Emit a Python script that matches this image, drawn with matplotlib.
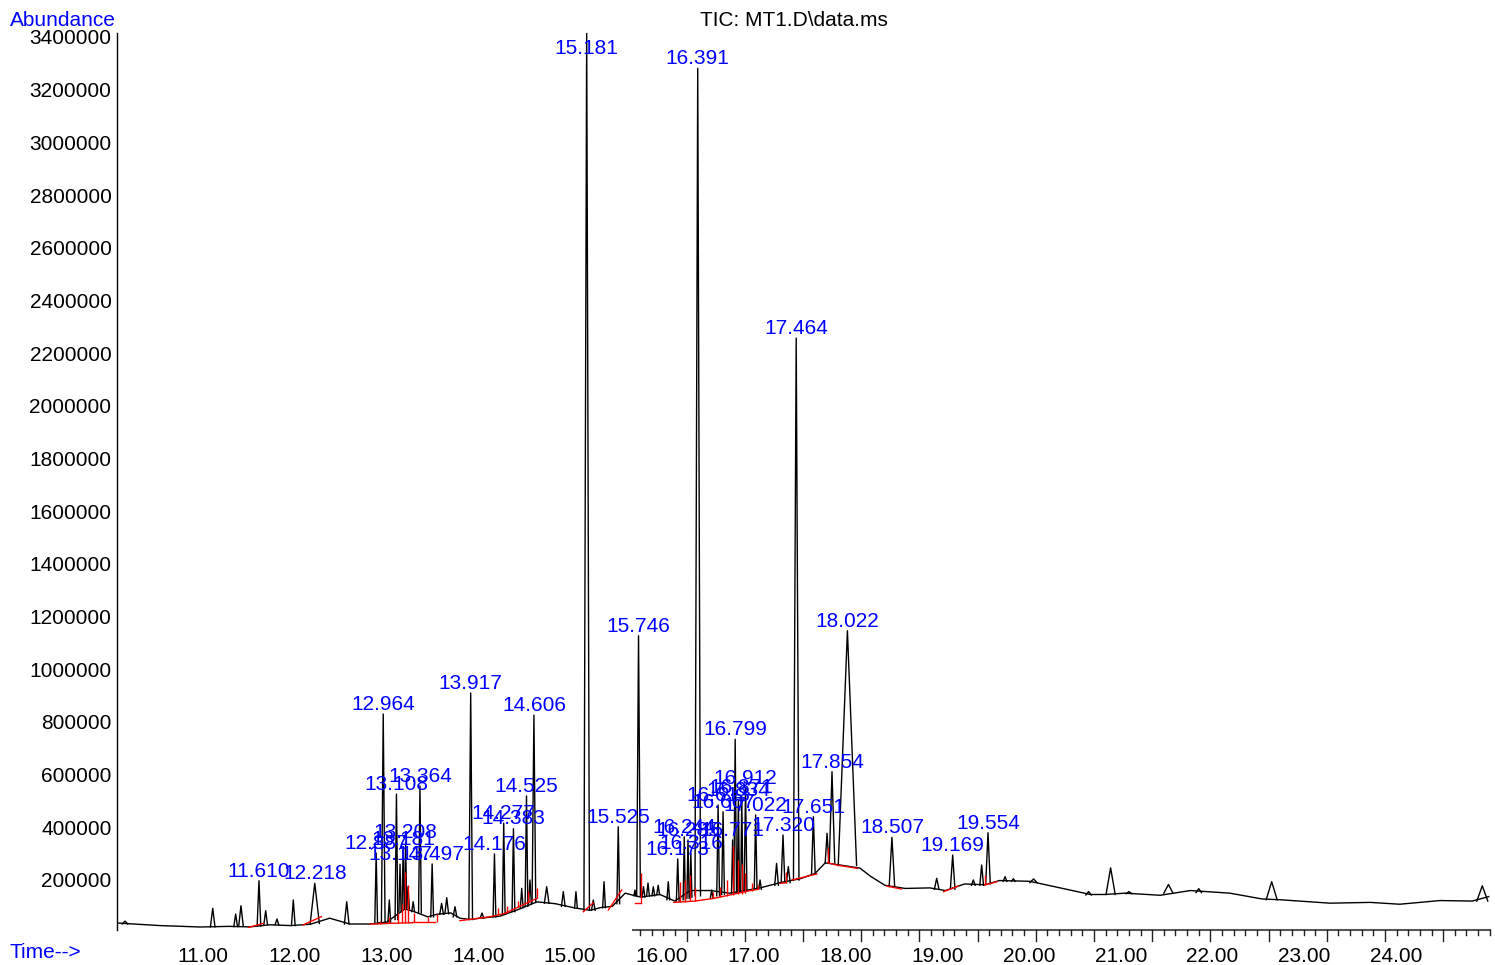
import numpy as np
import matplotlib.pyplot as plt

plt.rcParams['font.family'] = ['Liberation Sans', 'DejaVu Sans']

# background trace between peaks (min, abundance)
base_t = [10.063, 10.53, 10.967, 11.29, 11.51, 11.73, 11.95, 12.17, 12.38, 12.60, 12.82,
          13.0, 13.2, 13.3, 13.45, 13.55, 13.7, 13.8, 13.91, 14.02, 14.24, 14.45, 14.64,
          14.84, 15.05, 15.22, 15.33, 15.46, 15.60, 15.77, 15.98, 16.14, 16.31, 16.53,
          16.74, 17.07, 17.29, 17.51, 17.67, 17.78, 17.94, 18.16, 18.27, 18.43, 18.65,
          18.92, 19.09, 19.30, 19.52, 19.68, 20.01, 20.34, 20.67, 20.83, 21.05, 21.43,
          21.76, 22.19, 22.54, 22.74, 23.28, 23.72, 24.04, 24.48, 24.83, 25.01]
base_v = [36800, 27000, 21600, 24000, 22000, 30000, 27000, 32000, 55000, 33000, 33000,
          40000, 90000, 80000, 60000, 70000, 75000, 55000, 50000, 55000, 63000, 90000, 117000,
          110000, 94000, 85000, 95000, 100000, 150000, 135000, 145000, 120000, 160000, 160000,
          150000, 170000, 190000, 205000, 225000, 265000, 257000, 245000, 215000, 180000, 168000,
          170000, 160000, 185000, 182000, 198000, 195000, 170000, 145000, 145000, 150000, 142000,
          160000, 150000, 128000, 125000, 112000, 115000, 108000, 122000, 120000, 137000]

# integrated (labelled) peaks: label, apex, foot, half width at foot (min)
peak_labels = ["11.610", "12.218", "12.887", "12.964", "13.108", "13.147", "13.181", "13.208",
               "13.364", "13.497", "13.917", "14.176", "14.277", "14.383", "14.525", "14.606",
               "15.181", "15.525", "15.746", "16.173", "16.244", "16.285", "16.316", "16.391",
               "16.613", "16.667", "16.771", "16.799", "16.834", "16.871", "16.912", "17.022",
               "17.320", "17.464", "17.651", "17.854", "18.022", "18.507", "19.169", "19.554"]
peak_height = [197000, 187500, 302000, 830000, 526000, 260000, 318000, 345000,
               557000, 261000, 910000, 299000, 416000, 395000, 519000, 826000,
               3430000, 402000, 1127000, 280000, 364000, 352000, 300000, 3281000,
               485000, 459000, 352000, 734000, 504000, 516000, 549000, 447000,
               371000, 2257000, 440000, 611000, 1146000, 362000, 295000, 379500]
peak_foot = [25000, 35000, 33000, 35000, 50000, 80000, 90000, 95000,
             75000, 60000, 50000, 60000, 70000, 80000, 100000, 115000,
             85000, 110000, 140000, 120000, 125000, 130000, 135000, 140000,
             140000, 145000, 150000, 150000, 155000, 155000, 160000, 165000,
             190000, 200000, 222000, 265000, 255000, 175000, 165000, 185000]
peak_hw = [0.02, 0.05, 0.015, 0.02, 0.015, 0.012, 0.012, 0.012,
           0.015, 0.015, 0.02, 0.015, 0.015, 0.015, 0.015, 0.02,
           0.03, 0.015, 0.02, 0.015, 0.012, 0.012, 0.012, 0.03,
           0.015, 0.015, 0.012, 0.015, 0.012, 0.012, 0.015, 0.015,
           0.02, 0.03, 0.02, 0.03, 0.1, 0.03, 0.025, 0.025]

# smaller unlabelled peaks
minor_rt = [10.15, 11.106, 11.356, 11.414, 11.683, 11.806, 11.984, 12.566, 13.03, 13.234,
            13.29, 13.60, 13.656, 13.746, 14.04, 14.473, 14.563, 14.745, 14.926, 15.064,
            15.253, 15.370, 15.707, 15.80, 15.849, 15.907, 15.96, 16.07, 16.543, 17.07,
            17.25, 17.378, 17.80, 18.995, 19.394, 19.485, 19.74, 19.83, 20.05, 20.65,
            20.89, 21.09, 21.52, 21.85, 22.645, 24.94]
minor_height = [44000, 92600, 70900, 102400, 83500, 52000, 124000, 117600, 124000, 174600,
                117600, 111400, 132800, 98600, 74700, 168400, 200000, 174600, 155600, 155600,
                124000, 193500, 162000, 174600, 188600, 174600, 180000, 193500, 162000, 200000,
                263000, 250600, 377000, 206500, 200000, 257000, 212700, 205000, 204000, 156000,
                246000, 156000, 183000, 167000, 193500, 178000]
minor_foot = [33000, 22000, 23000, 24000, 30000, 30000, 27000, 33000, 40000, 90000,
              80000, 70000, 72000, 60000, 55000, 95000, 110000, 112000, 100000, 94000,
              85000, 95000, 140000, 135000, 140000, 140000, 145000, 125000, 130000, 165000,
              180000, 190000, 265000, 165000, 180000, 180000, 195000, 195000, 190000, 143000,
              145000, 148000, 150000, 152000, 125000, 120000]
minor_hw = [0.03, 0.025, 0.02, 0.025, 0.02, 0.02, 0.02, 0.025, 0.015, 0.015,
            0.015, 0.02, 0.02, 0.02, 0.02, 0.015, 0.015, 0.025, 0.02, 0.015,
            0.02, 0.015, 0.01, 0.015, 0.015, 0.015, 0.015, 0.015, 0.015, 0.015,
            0.02, 0.02, 0.02, 0.025, 0.02, 0.02, 0.02, 0.02, 0.04, 0.03,
            0.05, 0.03, 0.05, 0.03, 0.06, 0.06]

# red integration baselines
red_runs = [
    ([11.50, 11.66], [20400, 35600]),
    ([12.09, 12.29], [29200, 60800]),
    ([12.82, 13.28], [33000, 38000]),
    ([13.28, 13.53], [40000, 40000]),
    ([13.80, 14.13, 14.29, 14.64], [45500, 60700, 73500, 130400]),
    ([15.145, 15.254], [79700, 114000]),
    ([15.417, 15.562], [86000, 162000]),
    ([15.707, 15.77], [113800, 113800]),
    ([16.13, 16.36, 16.56, 16.74, 16.96, 17.05], [115000, 120000, 130000, 143000, 159500, 164500]),
    ([17.29, 17.353], [187000, 190000]),
    ([17.42, 17.69], [200000, 223000]),
    ([17.81, 17.90, 18.13], [265700, 257000, 244300]),
    ([18.45, 18.61], [177000, 165800]),
    ([19.07, 19.23], [155600, 177000]),
    ([19.52, 19.65], [181000, 193500]),
]
drop_t = [12.93, 13.03, 13.13, 13.17, 13.20, 13.23, 13.30, 13.45, 13.55,
          14.215, 14.31, 14.436, 14.545, 14.636, 15.77,
          16.198, 16.252, 16.307, 16.361, 16.56, 16.634, 16.707, 16.779, 16.833,
          16.87, 16.906, 16.979, 17.05, 17.353, 17.81, 19.52]
drop_lo = [33000, 35000, 37000, 38000, 38000, 38000, 40000, 40000, 40000,
           67000, 76000, 97000, 115000, 130000, 113800,
           116500, 117500, 118500, 120000, 130000, 135000, 138500, 142000, 145000,
           148000, 151000, 158000, 164500, 190000, 265700, 181000]
drop_hi = [45000, 60000, 75000, 110000, 230000, 180000, 75000, 60000, 70000,
           95000, 100000, 120000, 160000, 170000, 225000,
           193000, 200000, 219000, 170000, 155000, 175000, 200000, 330000, 276000,
           260000, 225000, 190000, 180000, 231000, 320000, 219000]

y_ticks = np.arange(200000, 3400001, 200000)
x_ticks = np.arange(11, 25)

W, H = 1495, 965
fig = plt.figure(figsize=(W / 100, H / 100), dpi=100)
ax = fig.add_axes([117 / W, (H - 930) / H, (1490 - 117) / W, (930 - 33) / H])
ax.set_xlim(10.063, 25.024)
ax.set_ylim(10200, 3415000)

ax.plot(base_t, base_v, color='black', lw=1.0)
for rt, h, b, w in zip(minor_rt, minor_height, minor_foot, minor_hw):
    ax.plot([rt - w, rt, rt + w], [b, h, b], color='black', lw=1.0)
for lab, h, b, w in zip(peak_labels, peak_height, peak_foot, peak_hw):
    rt = float(lab)
    ax.plot([rt - w, rt, rt + w], [b, h, b], color='black', lw=1.0)

for ts, vs in red_runs:
    ax.plot(ts, vs, color='red', lw=1.0)
ax.vlines(drop_t, drop_lo, drop_hi, color='red', lw=1.0)

for lab, h in zip(peak_labels, peak_height):
    ax.annotate(lab, (float(lab), min(h, 3320000)), xytext=(0, 3), textcoords='offset points',
                ha='center', va='baseline', color='blue', fontsize=15, zorder=5)

# axes styling like the ChemStation print
for s in ['top', 'right', 'bottom']:
    ax.spines[s].set_visible(False)
ax.spines['left'].set_linewidth(1.0)
ax.set_yticks(y_ticks)
ax.set_yticklabels([str(v) for v in y_ticks])
ax.set_xticks(x_ticks)
ax.set_xticklabels([f"{v:.2f}" for v in x_ticks])
ax.tick_params(axis='y', length=0, pad=4, labelsize=15)
ax.tick_params(axis='x', length=0, pad=12, labelsize=15)

# time axis ruler only drawn on the right part
trans = ax.get_xaxis_transform()
step = 11.64 / 91.77
ax.plot([15.686, 25.024], [0, 0], color='#555555', lw=1.5, transform=trans, clip_on=False)
ruler = np.arange(15.762, 25.03, step)
for i, t in enumerate(ruler):
    ln = -0.012 if i % 5 == 4 else -0.0055
    ax.plot([t, t], [0, ln], color='#222222', lw=1.0, transform=trans, clip_on=False)

fig.text(10 / W, 1 - 20 / H, "Abundance", color='blue', fontsize=15, ha='left', va='center')
fig.text(794 / W, 1 - 20 / H, "TIC: MT1.D\\data.ms", color='black', fontsize=15, ha='center', va='center')
fig.text(10 / W, 1 - 952 / H, "Time-->", color='blue', fontsize=15, ha='left', va='center')

fig.savefig("out.png", dpi=100)
